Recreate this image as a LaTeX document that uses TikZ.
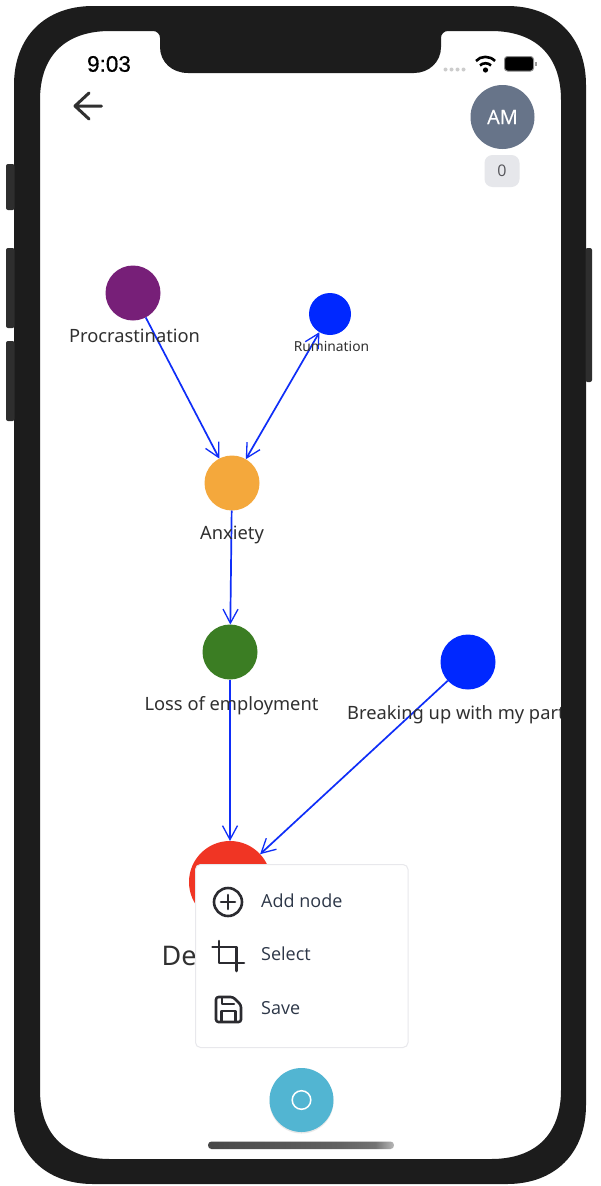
\documentclass[tikz,border=0pt]{standalone}
\usepackage{fontspec}
\setmainfont{Noto Sans}
\newfontfamily\uifont{Open Sans}
\newfontfamily\avatarfont[FakeBold=0.3]{Open Sans}
\newfontfamily\statusfont[FakeBold=0.5]{Liberation Sans}
\usetikzlibrary{arrows.meta,shadows}
\definecolor{framecol}{HTML}{1C1C1C}
\definecolor{edgecol}{HTML}{0F2EF8}
\definecolor{labelcol}{HTML}{303030}
\definecolor{menutext}{HTML}{2D3748}
\definecolor{iconcol}{HTML}{2B2B30}
\pgfdeclarehorizontalshading{barshade}{100bp}{color(0bp)=(black!72); color(25bp)=(black!72); color(60bp)=(black!62); color(70bp)=(black!55); color(75bp)=(black!28); color(100bp)=(black!28)}
\tikzset{
  graphnode/.style={circle,inner sep=0pt,outer sep=0pt,minimum size=#1},
  link/.style={draw=edgecol,line width=1.7pt,-{Straight Barb[length=14pt,width=15pt,line width=1.3pt]}},
  biglink/.style={draw=edgecol,line width=1.7pt,{Straight Barb[length=14pt,width=15pt,line width=1.3pt]}-{Straight Barb[length=14pt,width=15pt,line width=1.3pt]}},
  nodelabel/.style={text=labelcol,font=\fontsize{#1}{#1}\selectfont,inner sep=0pt},
  menulabel/.style={text=menutext,font=\uifont\fontsize{18}{18}\selectfont,anchor=west,inner sep=0pt},
  icon/.style={draw=iconcol,line width=2.6pt,line cap=round,line join=round},
}
\begin{document}
\begin{tikzpicture}[x=1pt,y=-1pt]
\useasboundingbox (0,0) rectangle (600,1186);
\fill[white] (0,0) rectangle (600,1186);
% graph nodes
\node[graphnode=55pt,fill={rgb,255:red,119;green,31;blue,120}] (proc) at (133,293) {};
\node[graphnode=42pt,fill={rgb,255:red,0;green,40;blue,255}] (rum) at (330,314) {};
\node[graphnode=55pt,fill={rgb,255:red,244;green,168;blue,60}] (anx) at (232,483) {};
\node[graphnode=55pt,fill={rgb,255:red,59;green,125;blue,35}] (loss) at (230,652) {};
\node[graphnode=55pt,fill={rgb,255:red,0;green,40;blue,255}] (brk) at (468,662) {};
\node[graphnode=82pt,fill={rgb,255:red,240;green,53;blue,36}] (dep) at (230,882) {};
% connectors
\draw[link] (proc) -- (anx);
\draw[biglink] (rum) -- (anx);
\draw[link] (anx) -- (loss);
\draw[link] (loss) -- (dep);
\draw[link] (brk) -- (dep);
% labels
\node[nodelabel=18.3] (lproc) at (134.5,336) {Procrastination};
\node[nodelabel=13.8] (lrum) at (331.5,346) {Rumination};
\node[nodelabel=18.3] (lanx) at (232,534.5) {Anxiety};
\node[nodelabel=18.3] (lloss) at (231.5,705.5) {Loss of employment};
\node[nodelabel=18.3,anchor=west] (lbrk) at (347,714.5) {Breaking up with my part};
\node[nodelabel=27,anchor=west] (ldep) at (161.5,956) {De};
% menu
\draw[draw={rgb,255:red,232;green,232;blue,236},fill=white,line width=1pt,rounded corners=5pt] (195.5,864.5) rectangle (408,1047.5);
\node[menulabel] (madd) at (261,901) {Add node};
\node[menulabel] (msel) at (261,954) {Select};
\node[menulabel] (msav) at (261,1008) {Save};
\draw[icon] (228,902) circle[radius=14pt];
\draw[icon] (221,902) -- (235,902) (228,895) -- (228,909);
\draw[icon] (219,941) -- (219,963) -- (244,963) (212.5,947) -- (236.7,947) -- (236.7,971);
\draw[icon,rounded corners=2.5pt] (216,997) -- (233,997) -- (241,1005) -- (241,1022) -- (216,1022) -- cycle;
\draw[icon,line width=2.2pt] (222,997.5) -- (222,1004) -- (234,1004);
\draw[icon,line width=2.2pt] (221.5,1021) -- (221.5,1011) -- (235.5,1011) -- (235.5,1021);
% top bar
\draw[draw=labelcol,line width=3pt,line cap=round,line join=round] (75,106) -- (101.5,106) (89,93) -- (75,106) -- (89,119);
\node[circle,fill={rgb,255:red,103;green,116;blue,137},minimum size=64pt,inner sep=0pt] (avatar) at (502.5,117) {};
\node[text=white,font=\avatarfont\fontsize{20}{20}\selectfont,inner sep=0pt] (avtext) at (502.5,117) {AM};
\node[fill={rgb,255:red,230;green,231;blue,235},rounded corners=8pt,minimum width=35pt,minimum height=32pt,inner sep=0pt,text={rgb,255:red,85;green,85;blue,90},font=\uifont\fontsize{16}{16}\selectfont] (badge) at (502,171) {0};
% floating button
\node[circle,fill={rgb,255:red,82;green,181;blue,210},minimum size=64pt,inner sep=0pt,drop shadow={shadow xshift=0pt,shadow yshift=-1.5pt,opacity=.18}] (fab) at (301.5,1100) {};
\draw[white,line width=1.5pt] (fab.center) circle[radius=9.3pt];
\shade[shading=barshade,rounded corners=3.5pt] (208,1141.5) rectangle (394,1149);
% device
\fill[framecol,even odd rule]
  (93,6) -- (507,6) .. controls (555,6) and (586,37) .. (586,85) -- (586,1105)
  .. controls (586,1153) and (555,1184) .. (507,1184) -- (93,1184)
  .. controls (45,1184) and (14,1153) .. (14,1105) -- (14,85)
  .. controls (14,37) and (45,6) .. (93,6) -- cycle
  (110,31) -- (153,31) .. controls (157,31) and (160,34) .. (160,38) -- (160,47)
  .. controls (160,62) and (172,73) .. (188,73) -- (414,73)
  .. controls (429,73) and (441,62) .. (441,47) -- (441,38)
  .. controls (441,34) and (444,31) .. (448,31) -- (491,31)
  .. controls (535,31) and (561,55) .. (561,100) -- (561,1090)
  .. controls (561,1135) and (535,1159) .. (491,1159) -- (110,1159)
  .. controls (66,1159) and (40,1135) .. (40,1090) -- (40,100)
  .. controls (40,55) and (66,31) .. (110,31) -- cycle;
\fill[framecol!92!white,rounded corners=2pt] (6,164) rectangle (14.5,210);
\fill[framecol!92!white,rounded corners=2pt] (6,248) rectangle (14.5,328);
\fill[framecol!92!white,rounded corners=2pt] (6,341) rectangle (14.5,421);
\fill[framecol!92!white,rounded corners=2pt] (585.5,248) rectangle (592,382);
% status bar
\node[text=black,font=\statusfont\fontsize{22.5}{22.5}\selectfont,inner sep=0pt] (clock) at (109,64) {9:03};
\foreach \dx in {445.5,451.5,457.5,463.5} \fill[black!20] (\dx,69.5) circle[radius=2pt];
\draw[black,line width=2.6pt] (476,61) .. controls (480.5,55.5) and (490,55.5) .. (495,61);
\draw[black,line width=2.6pt] (480,65.5) .. controls (482.5,62.5) and (488.5,62.5) .. (491,65.5);
\fill[black] (485.5,70) circle[radius=2.6pt];
\draw[black!45,fill=black,line width=1pt,rounded corners=3pt] (504.5,56.5) rectangle (533.5,71);
\fill[black!40] (535,61.5) rectangle (536.5,66);
\end{tikzpicture}
\end{document}
